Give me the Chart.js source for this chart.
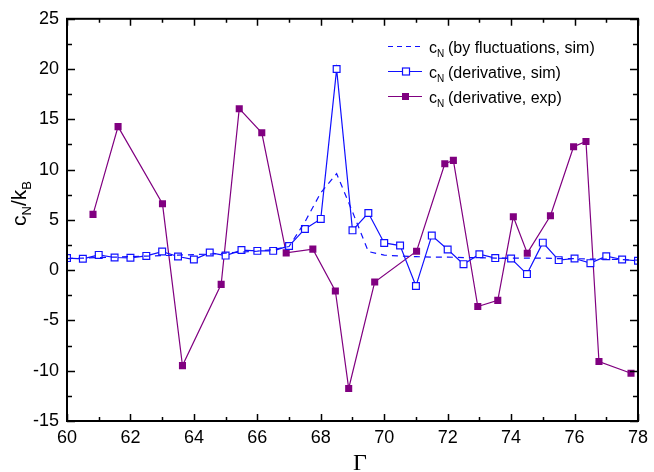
<!DOCTYPE html>
<html>
<head>
<meta charset="utf-8">
<script src="https://cdn.jsdelivr.net/npm/chart.js@4"></script>
<style>
  html, body { margin: 0; padding: 0; background: #fff; }
  #wrap { width: 654px; height: 472px; position: relative; }
</style>
</head>
<body>
<div id="wrap"><canvas id="cnChart"></canvas></div>
<script>
// Gamma grid of the simulation runs
const simGamma = [60, 60.5, 61, 61.5, 62, 62.5, 63, 63.5, 64, 64.5, 65, 65.5, 66, 66.5, 67, 67.5, 68, 68.5,
                  69, 69.5, 70, 70.5, 71, 71.5, 72, 72.5, 73, 73.5, 74, 74.5, 75, 75.5, 76, 76.5, 77, 77.5, 78];
// c_N from fluctuations (sim)
const simFluct = [1.15, 1.2, 1.25, 1.3, 1.35, 1.4, 1.45, 1.5, 1.55, 1.6, 1.7, 1.8, 1.9, 2.05, 2.35, 4.8, 7.7, 9.6,
                  5.8, 1.85, 1.5, 1.4, 1.35, 1.3, 1.3, 1.25, 1.25, 1.2, 1.2, 1.2, 1.2, 1.15, 1.15, 1.1, 1.1, 1.05, 1.0];
// c_N from derivative (sim)
const simDeriv = [1.2, 1.13, 1.52, 1.26, 1.23, 1.42, 1.85, 1.36, 1.06, 1.75, 1.45, 2.0, 1.92, 1.92, 2.41, 4.1, 5.1, 20.0,
                  3.96, 5.68, 2.71, 2.45, -1.58, 3.44, 2.05, 0.6, 1.59, 1.2, 1.16, -0.39, 2.74, 1.0, 1.16, 0.7, 1.39, 1.06, 0.93];
// experiment: Gamma and c_N from derivative
const expGamma = [60.82, 61.61, 63.01, 63.64, 64.86, 65.43, 66.14, 66.91, 67.75, 68.46, 68.88, 69.7,
                  71.02, 71.91, 72.18, 72.95, 73.58, 74.07, 74.51, 75.24, 75.97, 76.36, 76.77, 77.78];
const expDeriv = [5.55, 14.28, 6.6, -9.49, -1.41, 16.06, 13.66, 1.72, 2.09, -2.07, -11.76, -1.18,
                  1.89, 10.59, 10.92, -3.62, -3.0, 5.31, 1.69, 5.41, 12.27, 12.8, -9.09, -10.25];

const xTicks = [60, 62, 64, 66, 68, 70, 72, 74, 76, 78];
const yTicks = [-15, -10, -5, 0, 5, 10, 15, 20, 25];

const BLUE = '#1010ff';
const PURPLE = '#800080';
const SANS = 'Arial, "Liberation Sans", sans-serif';

function pts(xs, ys) {
    return xs.map(function (x, i) { return { x: x, y: ys[i] }; });
}

const legendItems = [
    { text: '(by fluctuations, sim)', color: BLUE, dash: [5, 4], marker: null },
    { text: '(derivative, sim)', color: BLUE, dash: [], marker: 'open' },
    { text: '(derivative, exp)', color: PURPLE, dash: [], marker: 'filled' }
];

// inward ticks, frame box, legend and axis titles
const decorations = {
    id: 'decorations',
    afterDraw: function (chart) {
        const ctx = chart.ctx;
        const a = chart.chartArea;
        const xs = chart.scales.x, ys = chart.scales.y;
        ctx.save();
        ctx.strokeStyle = '#000';
        ctx.lineWidth = 1.5;
        ctx.beginPath();
        for (let v = 60; v <= 78; v += 1) {
            const px = Math.round(xs.getPixelForValue(v)) + 0.5;
            const len = (v % 2 === 0) ? 7 : 4;
            ctx.moveTo(px, a.bottom); ctx.lineTo(px, a.bottom - len);
            ctx.moveTo(px, a.top); ctx.lineTo(px, a.top + len);
        }
        for (let v = -15; v <= 25; v += 2.5) {
            const py = Math.round(ys.getPixelForValue(v)) + 0.5;
            const len = (v % 5 === 0) ? 8 : 5;
            ctx.moveTo(a.left, py); ctx.lineTo(a.left + len, py);
            ctx.moveTo(a.right, py); ctx.lineTo(a.right - len, py);
        }
        ctx.stroke();
        ctx.lineWidth = 2;
        ctx.strokeRect(a.left, a.top, a.right - a.left, a.bottom - a.top);

        // legend
        legendItems.forEach(function (it, i) {
            const cy = 46.5 + i * 25;
            ctx.strokeStyle = it.color;
            ctx.lineWidth = 1.2;
            ctx.setLineDash(it.dash);
            ctx.beginPath();
            ctx.moveTo(388, cy); ctx.lineTo(422, cy);
            ctx.stroke();
            ctx.setLineDash([]);
            if (it.marker === 'open') {
                ctx.fillStyle = '#fff';
                ctx.fillRect(402.5, cy - 3.5, 7, 7);
                ctx.strokeRect(402.5, cy - 3.5, 7, 7);
            } else if (it.marker === 'filled') {
                ctx.fillStyle = it.color;
                ctx.fillRect(402, cy - 3.5, 7, 7);
            }
            ctx.fillStyle = '#000';
            ctx.textBaseline = 'alphabetic';
            ctx.textAlign = 'left';
            ctx.font = '16px ' + SANS;
            ctx.fillText('c', 429, cy + 6.8);
            ctx.font = '10px ' + SANS;
            ctx.fillText('N', 437, cy + 10.8);
            ctx.font = '16px ' + SANS;
            ctx.fillText(it.text, 448, cy + 6.8);
        });

        // y title: c_N/k_B
        ctx.save();
        ctx.translate(26, 226);
        ctx.rotate(-Math.PI / 2);
        ctx.fillStyle = '#000';
        ctx.textAlign = 'left';
        let x = 0;
        const parts = [['c', 21, 0], ['N', 13, 5], ['/k', 21, 0], ['B', 13, 5]];
        parts.forEach(function (p) {
            ctx.font = p[1] + 'px ' + SANS;
            ctx.fillText(p[0], x, p[2]);
            x += ctx.measureText(p[0]).width;
        });
        ctx.restore();

        // x title
        ctx.fillStyle = '#000';
        ctx.font = '24px "Liberation Serif", "Times New Roman", serif';
        ctx.textAlign = 'center';
        ctx.fillText('\u0393', 360, 470);
        ctx.restore();
    }
};

new Chart(document.getElementById('cnChart'), {
    type: 'line',
    data: {
        datasets: [{
            label: 'c_N (by fluctuations, sim)',
            data: pts(simGamma, simFluct),
            borderColor: BLUE,
            borderWidth: 1.2,
            borderDash: [6, 5],
            pointRadius: 0,
            tension: 0
        }, {
            label: 'c_N (derivative, sim)',
            data: pts(simGamma, simDeriv),
            borderColor: BLUE,
            backgroundColor: '#fff',
            borderWidth: 1.2,
            pointStyle: 'rect',
            pointRadius: 4.8,
            pointBorderWidth: 1.2,
            tension: 0
        }, {
            label: 'c_N (derivative, exp)',
            data: pts(expGamma, expDeriv),
            borderColor: PURPLE,
            backgroundColor: PURPLE,
            borderWidth: 1.2,
            pointStyle: 'rect',
            pointRadius: 5,
            pointBorderWidth: 0,
            tension: 0
        }]
    },
    options: {
        responsive: true,
        maintainAspectRatio: false,
        animation: false,
        layout: { padding: { top: 17, right: 12, left: 0, bottom: 0 } },
        plugins: {
            legend: { display: false },
            tooltip: { enabled: false }
        },
        scales: {
            x: {
                type: 'linear',
                min: 60,
                max: 78,
                afterBuildTicks: function (s) { s.ticks = xTicks.map(function (v) { return { value: v }; }); },
                afterFit: function (s) { s.height = 51; },
                ticks: { color: '#000', font: { family: SANS, size: 18 }, padding: 6, maxRotation: 0 },
                grid: { display: false, drawTicks: false },
                border: { display: false }
            },
            y: {
                min: -15,
                max: 25,
                afterBuildTicks: function (s) { s.ticks = yTicks.map(function (v) { return { value: v }; }); },
                afterFit: function (s) { s.width = 67; },
                ticks: { color: '#000', font: { family: SANS, size: 18 }, padding: 8 },
                grid: { display: false, drawTicks: false },
                border: { display: false }
            }
        }
    },
    plugins: [decorations]
});
</script>
</body>
</html>
